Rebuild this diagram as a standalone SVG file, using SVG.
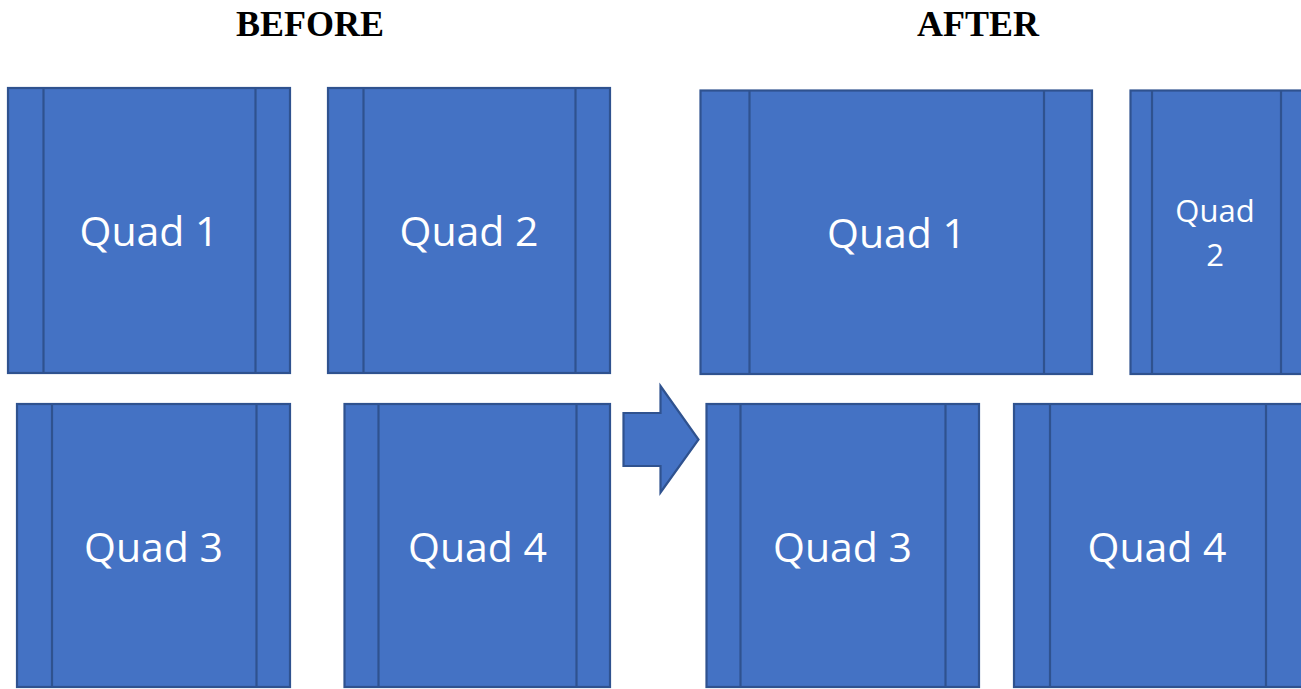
<svg xmlns="http://www.w3.org/2000/svg" width="1301" height="689" viewBox="0 0 1301 689">
  <style>
    .box { fill: #4472C4; stroke: #2F528F; stroke-width: 2.2; }
    .div { stroke: #2F528F; stroke-width: 2.2; fill: none; }
    .lbl { fill: #FFFFFF; font-family: "Open Sans", "Noto Sans", sans-serif; font-size: 41px; text-anchor: middle; }
    .lbl-sm { fill: #FFFFFF; font-family: "Open Sans", "Noto Sans", sans-serif; font-size: 31px; text-anchor: middle; }
    .title { fill: #000000; font-family: "Liberation Serif", "Times New Roman", serif; font-size: 36px; font-weight: bold; text-anchor: middle; }
  </style>
  <rect x="0" y="0" width="1301" height="689" fill="#FFFFFF"/>

  <text class="title" x="310" y="36">BEFORE</text>
  <text class="title" x="978" y="36">AFTER</text>

  <!-- Layout before -->
  <g id="before-quad1">
    <rect class="box" x="8" y="88" width="282" height="285"/>
    <line class="div" x1="43.5" y1="88" x2="43.5" y2="373"/>
    <line class="div" x1="255.5" y1="88" x2="255.5" y2="373"/>
    <text class="lbl" x="149" y="246">Quad 1</text>
  </g>
  <g id="before-quad2">
    <rect class="box" x="328" y="88" width="282" height="285"/>
    <line class="div" x1="363.5" y1="88" x2="363.5" y2="373"/>
    <line class="div" x1="575.5" y1="88" x2="575.5" y2="373"/>
    <text class="lbl" x="469" y="246">Quad 2</text>
  </g>
  <g id="before-quad3">
    <rect class="box" x="17" y="404" width="273" height="283"/>
    <line class="div" x1="52" y1="404" x2="52" y2="687"/>
    <line class="div" x1="256.5" y1="404" x2="256.5" y2="687"/>
    <text class="lbl" x="153.5" y="562">Quad 3</text>
  </g>
  <g id="before-quad4">
    <rect class="box" x="344.5" y="404" width="265.5" height="283"/>
    <line class="div" x1="378.5" y1="404" x2="378.5" y2="687"/>
    <line class="div" x1="576.5" y1="404" x2="576.5" y2="687"/>
    <text class="lbl" x="477.5" y="562">Quad 4</text>
  </g>

  <!-- Transition arrow -->
  <g id="connectors">
    <polygon class="box" points="623.5,413 660.5,413 660.5,386 698.5,439.5 660.5,492.5 660.5,466 623.5,466"/>
  </g>

  <!-- Layout after -->
  <g id="after-quad1">
    <rect class="box" x="700.5" y="90.5" width="391.5" height="283.5"/>
    <line class="div" x1="749.5" y1="90.5" x2="749.5" y2="374"/>
    <line class="div" x1="1044" y1="90.5" x2="1044" y2="374"/>
    <text class="lbl" x="896.5" y="248">Quad 1</text>
  </g>
  <g id="after-quad2">
    <rect class="box" x="1130.5" y="90.5" width="172.5" height="283.5"/>
    <line class="div" x1="1152" y1="90.5" x2="1152" y2="374"/>
    <line class="div" x1="1281" y1="90.5" x2="1281" y2="374"/>
    <text class="lbl-sm" x="1215" y="222">Quad</text>
    <text class="lbl-sm" x="1215" y="266">2</text>
  </g>
  <g id="after-quad3">
    <rect class="box" x="706.5" y="404" width="272.5" height="283"/>
    <line class="div" x1="740.5" y1="404" x2="740.5" y2="687"/>
    <line class="div" x1="945.5" y1="404" x2="945.5" y2="687"/>
    <text class="lbl" x="842.5" y="562">Quad 3</text>
  </g>
  <g id="after-quad4">
    <rect class="box" x="1014" y="404" width="289" height="283"/>
    <line class="div" x1="1050" y1="404" x2="1050" y2="687"/>
    <line class="div" x1="1266" y1="404" x2="1266" y2="687"/>
    <text class="lbl" x="1157" y="562">Quad 4</text>
  </g>
</svg>
